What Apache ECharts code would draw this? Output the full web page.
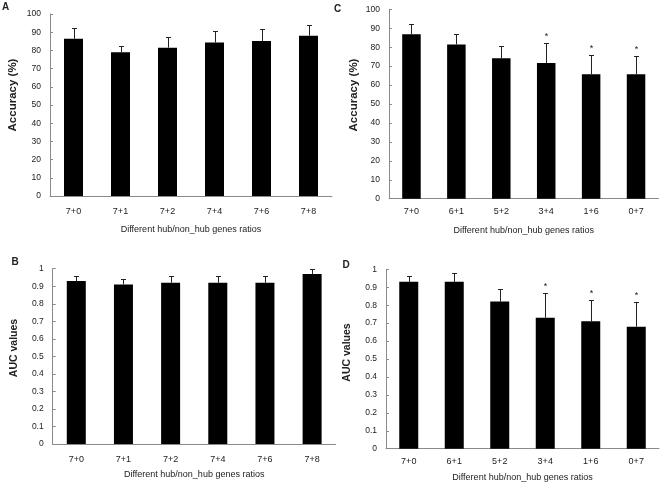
<!DOCTYPE html>
<html><head><meta charset="utf-8">
<script src="https://cdn.jsdelivr.net/npm/echarts@6/dist/echarts.min.js"></script>
<style>html,body{margin:0;padding:0;background:#fff}#c{width:662px;height:485px}</style>
</head><body><div id="c"></div>
<script>
const catsAB = ['7+0','7+1','7+2','7+4','7+6','7+8'];
const catsCD = ['7+0','6+1','5+2','3+4','1+6','0+7'];
const accA = [86.4, 79.0, 81.5, 84.4, 85.2, 88.1];
const accAErr = [5.9, 3.6, 5.9, 6.1, 6.6, 6.0];
const aucB = [0.93, 0.91, 0.92, 0.92, 0.92, 0.97];
const aucBErr = [0.03, 0.03, 0.04, 0.04, 0.04, 0.03];
const accC = [86.8, 81.4, 74.1, 71.6, 65.7, 65.7];
const accCErr = [5.5, 5.4, 6.3, 10.7, 10.3, 9.5];
const aucD = [0.93, 0.93, 0.82, 0.73, 0.71, 0.68];
const aucDErr = [0.03, 0.05, 0.07, 0.14, 0.12, 0.14];
const sigA = [0,0,0,0,0,0];
const sigB = [0,0,0,0,0,0];
const sigC = [0,0,0,1,1,1];
const sigD = [0,0,0,1,1,1];
const xTitle = 'Different hub/non_hub genes ratios';
const accTitle = 'Accuracy (%)';
const aucTitle = 'AUC values';

const FF = "'Liberation Sans', Arial, sans-serif";
const AX = '#8a8a8a';

const grids = [
  {left: 50, top: 14, width: 282, height: 182},
  {left: 389, top: 9.3, width: 269.5, height: 189.4},
  {left: 52.7, top: 268.7, width: 283, height: 175.3},
  {left: 386, top: 269.3, width: 273, height: 179.4}
];
const cats = [catsAB, catsCD, catsAB, catsCD];
const vals = [accA, accC, aucB, aucD];
const errs = [accAErr, accCErr, aucBErr, aucDErr];
const sigs = [sigA, sigC, sigB, sigD];
const isAcc = [true, true, false, false];
const lblMargin = [11, 8.5, 11.5, 8.5];
const nameGaps = [29, 27, 26.5, 24];
const barWidths = [19, 18.5, 19, 19];

const xAxis = [], yAxis = [], series = [];
for (let i = 0; i < 4; i++) {
  xAxis.push({
    type: 'category', gridIndex: i, data: cats[i], boundaryGap: true,
    axisLine: {lineStyle: {color: AX, width: 1}},
    axisTick: {inside: true, length: 3, lineStyle: {color: AX}, alignWithLabel: false},
    axisLabel: {fontSize: 9, color: '#222', fontFamily: FF, margin: lblMargin[i]},
    name: xTitle, nameLocation: 'middle', nameGap: nameGaps[i],
    nameTextStyle: {fontSize: 9, color: '#222', fontFamily: FF}
  });
  yAxis.push({
    type: 'value', gridIndex: i, min: 0, max: isAcc[i] ? 100 : 1, interval: isAcc[i] ? 10 : 0.1,
    axisLine: {show: true, lineStyle: {color: AX, width: 1}},
    axisTick: {show: true, inside: true, length: 3, lineStyle: {color: AX}},
    axisLabel: {fontSize: 8.5, color: '#222', fontFamily: FF, margin: 9,
      formatter: v => isAcc[i] ? String(Math.round(v)) : String(Math.round(v * 10) / 10)},
    splitLine: {show: false}
  });
  series.push({
    type: 'bar', xAxisIndex: i, yAxisIndex: i, data: vals[i], barWidth: barWidths[i],
    itemStyle: {color: '#000'}, silent: true, animation: false
  });
  const ed = vals[i].map((v, k) => [k, v, v + errs[i][k], sigs[i][k]]);
  series.push({
    type: 'custom', xAxisIndex: i, yAxisIndex: i, data: ed, animation: false, silent: true,
    z: 3,
    renderItem: function (params, api) {
      const x = api.value(0);
      const p0 = api.coord([x, api.value(1)]);
      const p1 = api.coord([x, api.value(2)]);
      const cx = Math.round(p0[0]) + 0.5;
      const ty = Math.round(p1[1]) + 0.5;
      const children = [
        {type: 'line', shape: {x1: cx, y1: p0[1], x2: cx, y2: ty}, style: {stroke: '#222', lineWidth: 1}},
        {type: 'line', shape: {x1: cx - 2.5, y1: ty, x2: cx + 2.5, y2: ty}, style: {stroke: '#222', lineWidth: 1}}
      ];
      if (api.value(3)) {
        children.push({type: 'text', x: cx, y: ty - 2,
          style: {text: '*', fontSize: 9, fontFamily: FF, fill: '#222', align: 'center', verticalAlign: 'bottom'}});
      }
      return {type: 'group', children: children};
    }
  });
}

const lab = (t, x, y) => ({type: 'text', x: x, y: y,
  style: {text: t, fontSize: 10, fontWeight: 'bold', fontFamily: FF, fill: '#222', align: 'center', verticalAlign: 'middle'}});
const ytitle = (t, x, y, fs) => ({type: 'text', x: x, y: y, rotation: Math.PI / 2,
  style: {text: t, fontSize: fs, fontWeight: 'bold', fontFamily: FF, fill: '#222', align: 'center', verticalAlign: 'middle'}});

const chart = echarts.init(document.getElementById('c'), null, {renderer: 'canvas'});
chart.setOption({
  animation: false,
  backgroundColor: '#fff',
  grid: grids,
  xAxis: xAxis,
  yAxis: yAxis,
  series: series,
  graphic: [
    lab('A', 5.5, 7.5), lab('C', 337.7, 9.5), lab('B', 15, 262.5), lab('D', 346, 265),
    ytitle(accTitle, 13.3, 95, 11.5), ytitle(accTitle, 354.3, 95, 11.5),
    ytitle(aucTitle, 14, 348, 10.5), ytitle(aucTitle, 346.8, 352.5, 10.5)
  ]
});
</script></body></html>
